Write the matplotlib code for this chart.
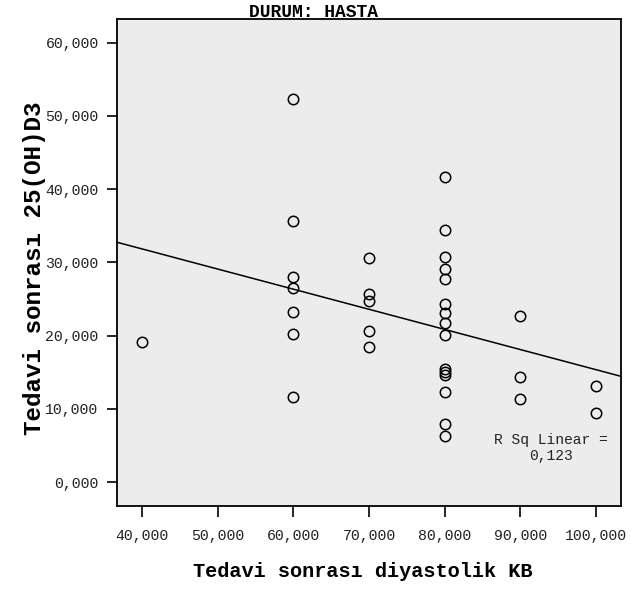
import numpy as np
import matplotlib
matplotlib.use("Agg")
import matplotlib.pyplot as plt

# Data: diastolic BP groups and 25(OH)D3 values
diastolic_levels = [40000, 60000, 70000, 80000, 90000, 100000]
vitd_at_40 = [19150]
vitd_at_60 = [52300, 35700, 28000, 26500, 23200, 20200, 11700]
vitd_at_70 = [30600, 25700, 24800, 20600, 18500]
vitd_at_80 = [41600, 34400, 30700, 29100, 27700, 24300, 23100, 21700, 20100,
              15400, 15050, 14700, 12300, 7960, 6300]
vitd_at_90 = [22700, 14300, 11400]
vitd_at_100 = [13100, 9500]

x_ticks = [40000, 50000, 60000, 70000, 80000, 90000, 100000]
y_ticks = [0, 10000, 20000, 30000, 40000, 50000, 60000]
title_text = "DURUM: HASTA"
xlabel_text = "Tedavi sonrası diyastolik KB"
ylabel_text = "Tedavi sonrası 25(OH)D3"
rsq_text = "R Sq Linear =\n0,123"

groups = [vitd_at_40, vitd_at_60, vitd_at_70, vitd_at_80, vitd_at_90, vitd_at_100]
x = np.concatenate([[lvl] * len(g) for lvl, g in zip(diastolic_levels, groups)]).astype(float)
y = np.concatenate(groups).astype(float)

mono = "Liberation Mono"

fig = plt.figure(figsize=(6.31, 5.93), dpi=100)
ax = fig.add_axes([0.185, 0.1472, 0.7987, 0.8208])
ax.set_facecolor("#ECECEC")

ax.plot(x, y, linestyle="none", marker="o", markersize=7.5,
        markerfacecolor="none", markeredgecolor="black", markeredgewidth=1.1)

xlim = (36610, 103310)
ylim = (-3200, 63230)
slope, intercept = np.polyfit(x, y, 1)
xx = np.array(xlim)
ax.plot(xx, slope * xx + intercept, color="black", linewidth=1.1)

ax.set_xlim(*xlim)
ax.set_ylim(*ylim)

ax.set_xticks(x_ticks)
ax.set_xticklabels([f"{v // 1000},000" for v in x_ticks])
ax.set_yticks(y_ticks)
ax.set_yticklabels([f"{v // 1000},000" for v in y_ticks])

for s in ax.spines.values():
    s.set_linewidth(1.3)
    s.set_color("black")

ax.tick_params(axis="x", direction="out", length=8, width=1.2, pad=9,
               labelsize=10.7, labelcolor="#222222")
ax.tick_params(axis="y", direction="out", length=7, width=1.2, pad=6,
               labelsize=10.7, labelcolor="#222222")
for lab in ax.get_xticklabels() + ax.get_yticklabels():
    lab.set_fontfamily(mono)

ax.set_xlabel(xlabel_text, fontfamily=mono, fontweight="bold", fontsize=14.6,
              labelpad=14)
ax.xaxis.set_label_coords(0.4887, -0.115)
fig.text(35 / 631, 1 - 268 / 593, ylabel_text, fontfamily=mono,
         fontweight="bold", fontsize=17.5, rotation=90,
         ha="center", va="center")
fig.text(313.5 / 631, 1 - 12.5 / 593, title_text, fontfamily=mono,
         fontweight="bold", fontsize=13, ha="center", va="center")

ax.text(0.8617, 0.1186, rsq_text, transform=ax.transAxes, fontfamily=mono,
        fontsize=10.5, ha="center", va="center", color="#222222",
        multialignment="center", linespacing=1.1)

fig.savefig("out.png", dpi=100)
